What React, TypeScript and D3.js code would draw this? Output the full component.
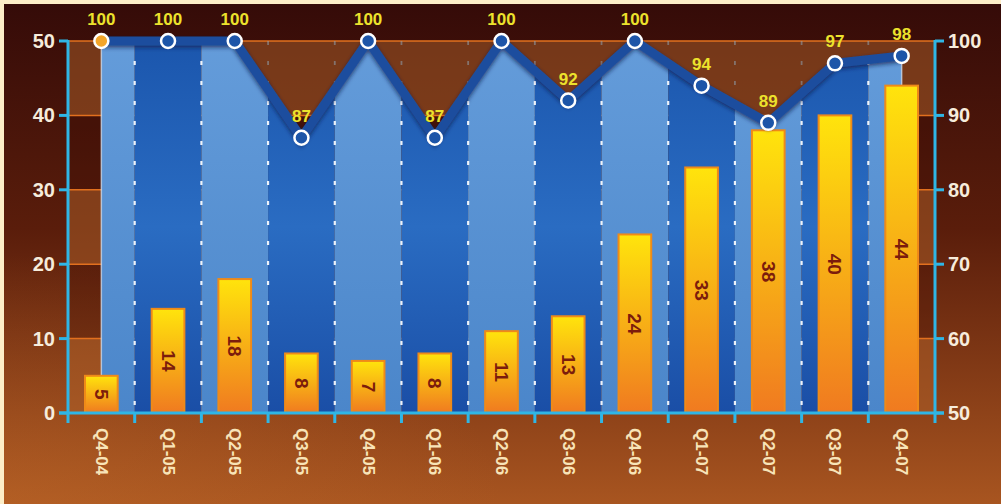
import { useEffect, useRef } from 'react';
import * as d3 from 'd3';

const categories = ['Q4-04', 'Q1-05', 'Q2-05', 'Q3-05', 'Q4-05', 'Q1-06', 'Q2-06', 'Q3-06', 'Q4-06', 'Q1-07', 'Q2-07', 'Q3-07', 'Q4-07'];
const barValues = [5, 14, 18, 8, 7, 8, 11, 13, 24, 33, 38, 40, 44];
const lineValues = [100, 100, 100, 87, 100, 87, 100, 92, 100, 94, 89, 97, 98];
const leftTicks = [0, 10, 20, 30, 40, 50];
const rightTicks = [50, 60, 70, 80, 90, 100];

const FONT = "'Liberation Sans', Arial, sans-serif";

export default function App() {
  const svgRef = useRef<SVGSVGElement>(null);

  useEffect(() => {
    if (!svgRef.current) return;
    const svg = d3.select(svgRef.current);
    svg.selectAll('*').remove();

    const width = 1001;
    const height = 504;
    const margin = { top: 41, right: 66, bottom: 91, left: 68 };
    const x0 = margin.left;
    const x1 = width - margin.right;
    const yTop = margin.top;
    const yBase = height - margin.bottom;

    const x = d3.scaleBand<string>().domain(categories).range([x0, x1]);
    const bw = x.bandwidth();
    const cx = (i: number) => (x(categories[i]) || 0) + bw / 2;
    const yL = d3.scaleLinear().domain([0, 50]).range([yBase, yTop]);
    const yR = d3.scaleLinear().domain([50, 100]).range([yBase, yTop]);

    const defs = svg.append('defs');

    const grad = (id: string, stops: [number, string][]) => {
      const lg = defs.append('linearGradient').attr('id', id).attr('x1', 0).attr('y1', 0).attr('x2', 0).attr('y2', 1);
      stops.forEach(([o, c]) => lg.append('stop').attr('offset', o).attr('stop-color', c));
    };

    grad('bg', [
      [0, '#350b08'],
      [0.45, '#5a1d0b'],
      [1, '#a85520'],
    ]);
    grad('lightCol', [
      [0, '#649cda'],
      [1, '#4b86ca'],
    ]);
    grad('darkCol', [
      [0, '#1b56ad'],
      [0.5, '#2a6cc2'],
      [1, '#1a4ea6'],
    ]);
    grad('barFill', [
      [0, '#ffe40c'],
      [1, '#f07a20'],
    ]);

    const rg = defs.append('radialGradient').attr('id', 'glow').attr('cx', 0).attr('cy', 1).attr('r', 0.5);
    rg.append('stop').attr('offset', 0).attr('stop-color', '#c8702c').attr('stop-opacity', 0.35);
    rg.append('stop').attr('offset', 1).attr('stop-color', '#c8702c').attr('stop-opacity', 0);

    const shadow = defs.append('filter').attr('id', 'shadow').attr('x', '-10%').attr('y', '-10%').attr('width', '120%').attr('height', '130%');
    shadow
      .append('feDropShadow')
      .attr('dx', 0)
      .attr('dy', 2)
      .attr('stdDeviation', 2)
      .attr('flood-color', '#0a1c48')
      .attr('flood-opacity', 0.7);

    // Background
    svg.append('rect').attr('width', width).attr('height', height).attr('fill', '#fdeec8');
    svg.append('rect').attr('x', 4).attr('y', 4).attr('width', width - 4).attr('height', height - 4).attr('fill', 'url(#bg)');
    svg.append('rect').attr('x', 4).attr('y', 4).attr('width', width - 4).attr('height', height - 4).attr('fill', 'url(#glow)');

    // Alternating horizontal bands
    leftTicks.slice(0, -1).forEach((t, i) => {
      svg
        .append('rect')
        .attr('x', x0)
        .attr('y', yL(t + 10))
        .attr('width', x1 - x0)
        .attr('height', yL(t) - yL(t + 10))
        .attr('fill', i % 2 === 0 ? '#b0622a' : '#3a0c04')
        .attr('opacity', i % 2 === 0 ? 0.5 : 0.25);
    });

    // Orange grid lines
    leftTicks.slice(1).forEach((t) => {
      svg
        .append('line')
        .attr('x1', x0)
        .attr('x2', x1)
        .attr('y1', yL(t))
        .attr('y2', yL(t))
        .attr('stroke', '#e2701e')
        .attr('stroke-width', 1.5);
    });

    // Dim dotted lines (above area)
    categories.slice(1).forEach((c) => {
      svg
        .append('line')
        .attr('x1', x(c)!)
        .attr('x2', x(c)!)
        .attr('y1', yTop)
        .attr('y2', yBase)
        .attr('stroke', '#8fa2b0')
        .attr('stroke-opacity', 0.55)
        .attr('stroke-width', 1.8)
        .attr('stroke-dasharray', '4 16');
    });

    // Area
    const area = d3
      .area<number>()
      .x((_, i) => cx(i))
      .y0(yBase)
      .y1((d) => yR(d));

    defs.append('clipPath').attr('id', 'areaClip').append('path').attr('d', area(lineValues));

    const areaG = svg.append('g').attr('clip-path', 'url(#areaClip)');
    categories.forEach((c, i) => {
      areaG
        .append('rect')
        .attr('x', x(c)!)
        .attr('y', yTop)
        .attr('width', bw)
        .attr('height', yBase - yTop)
        .attr('fill', i % 2 === 0 ? 'url(#lightCol)' : 'url(#darkCol)');
    });
    categories.slice(1).forEach((c) => {
      areaG
        .append('line')
        .attr('x1', x(c)!)
        .attr('x2', x(c)!)
        .attr('y1', yTop)
        .attr('y2', yBase)
        .attr('stroke', '#ffffff')
        .attr('stroke-opacity', 0.9)
        .attr('stroke-width', 2.2)
        .attr('stroke-dasharray', '4 16');
    });

    // Pale edges of area
    [0, lineValues.length - 1].forEach((i) => {
      svg
        .append('line')
        .attr('x1', cx(i))
        .attr('x2', cx(i))
        .attr('y1', yR(lineValues[i]))
        .attr('y2', yBase)
        .attr('stroke', '#d8e6f5')
        .attr('stroke-opacity', 0.7)
        .attr('stroke-width', 1.5);
    });

    // Bars
    const barW = bw * 0.49;
    barValues.forEach((v, i) => {
      svg
        .append('rect')
        .attr('x', cx(i) - barW / 2)
        .attr('y', yL(v))
        .attr('width', barW)
        .attr('height', yBase - yL(v))
        .attr('fill', 'url(#barFill)')
        .attr('stroke', '#ef8a18')
        .attr('stroke-width', 2);

      const my = (yL(v) + yBase) / 2;
      svg
        .append('text')
        .attr('transform', `translate(${cx(i)},${my}) rotate(90)`)
        .attr('text-anchor', 'middle')
        .attr('dominant-baseline', 'central')
        .attr('font-family', FONT)
        .attr('font-weight', 'bold')
        .attr('font-size', 19)
        .attr('fill', '#7c1c0c')
        .text(v);
    });

    // Line
    const line = d3
      .line<number>()
      .x((_, i) => cx(i))
      .y((d) => yR(d));

    svg
      .append('path')
      .datum(lineValues)
      .attr('d', line)
      .attr('fill', 'none')
      .attr('stroke', '#1c4e9e')
      .attr('stroke-width', 9)
      .attr('stroke-linejoin', 'miter')
      .attr('filter', 'url(#shadow)');

    lineValues.forEach((v, i) => {
      svg
        .append('circle')
        .attr('cx', cx(i))
        .attr('cy', yR(v))
        .attr('r', 7)
        .attr('fill', i === 0 ? '#f2a52a' : '#1d55a8')
        .attr('stroke', '#ffffff')
        .attr('stroke-width', 2.5);

      svg
        .append('text')
        .attr('x', cx(i))
        .attr('y', yR(v) - 16)
        .attr('text-anchor', 'middle')
        .attr('font-family', FONT)
        .attr('font-weight', 'bold')
        .attr('font-size', 17)
        .attr('fill', '#ece22c')
        .text(v);
    });

    // Axes
    const cyan = '#2fb6e6';
    const axisStroke = (sel: d3.Selection<SVGLineElement, unknown, null, undefined>) =>
      sel.attr('stroke', cyan).attr('stroke-width', 3);

    axisStroke(svg.append('line').attr('x1', x0).attr('x2', x0).attr('y1', yTop - 1).attr('y2', yBase + 10));
    axisStroke(svg.append('line').attr('x1', x1).attr('x2', x1).attr('y1', yTop - 1).attr('y2', yBase + 10));
    axisStroke(svg.append('line').attr('x1', x0 - 9).attr('x2', x1 + 9).attr('y1', yBase).attr('y2', yBase));

    categories.slice(1).forEach((c) => {
      axisStroke(svg.append('line').attr('x1', x(c)!).attr('x2', x(c)!).attr('y1', yBase).attr('y2', yBase + 10));
    });

    leftTicks.forEach((t) => {
      axisStroke(svg.append('line').attr('x1', x0 - 9).attr('x2', x0).attr('y1', yL(t)).attr('y2', yL(t)));
      svg
        .append('text')
        .attr('x', x0 - 13)
        .attr('y', yL(t))
        .attr('text-anchor', 'end')
        .attr('dominant-baseline', 'central')
        .attr('font-family', FONT)
        .attr('font-weight', 'bold')
        .attr('font-size', 20)
        .attr('fill', '#f6ecdc')
        .text(t);
    });

    rightTicks.forEach((t) => {
      axisStroke(svg.append('line').attr('x1', x1).attr('x2', x1 + 9).attr('y1', yR(t)).attr('y2', yR(t)));
      svg
        .append('text')
        .attr('x', x1 + 13)
        .attr('y', yR(t))
        .attr('text-anchor', 'start')
        .attr('dominant-baseline', 'central')
        .attr('font-family', FONT)
        .attr('font-weight', 'bold')
        .attr('font-size', 20)
        .attr('fill', '#f6ecdc')
        .text(t);
    });

    categories.forEach((c, i) => {
      svg
        .append('text')
        .attr('transform', `translate(${cx(i)},${yBase + 15}) rotate(90)`)
        .attr('text-anchor', 'start')
        .attr('dominant-baseline', 'central')
        .attr('font-family', FONT)
        .attr('font-weight', 'bold')
        .attr('font-size', 17)
        .attr('fill', '#f8e4b8')
        .text(c);
    });
  }, []);

  return (
    <svg
      ref={svgRef}
      width={1001}
      height={504}
      style={{ position: 'absolute', left: 0, top: 0, display: 'block' }}
    />
  );
}
